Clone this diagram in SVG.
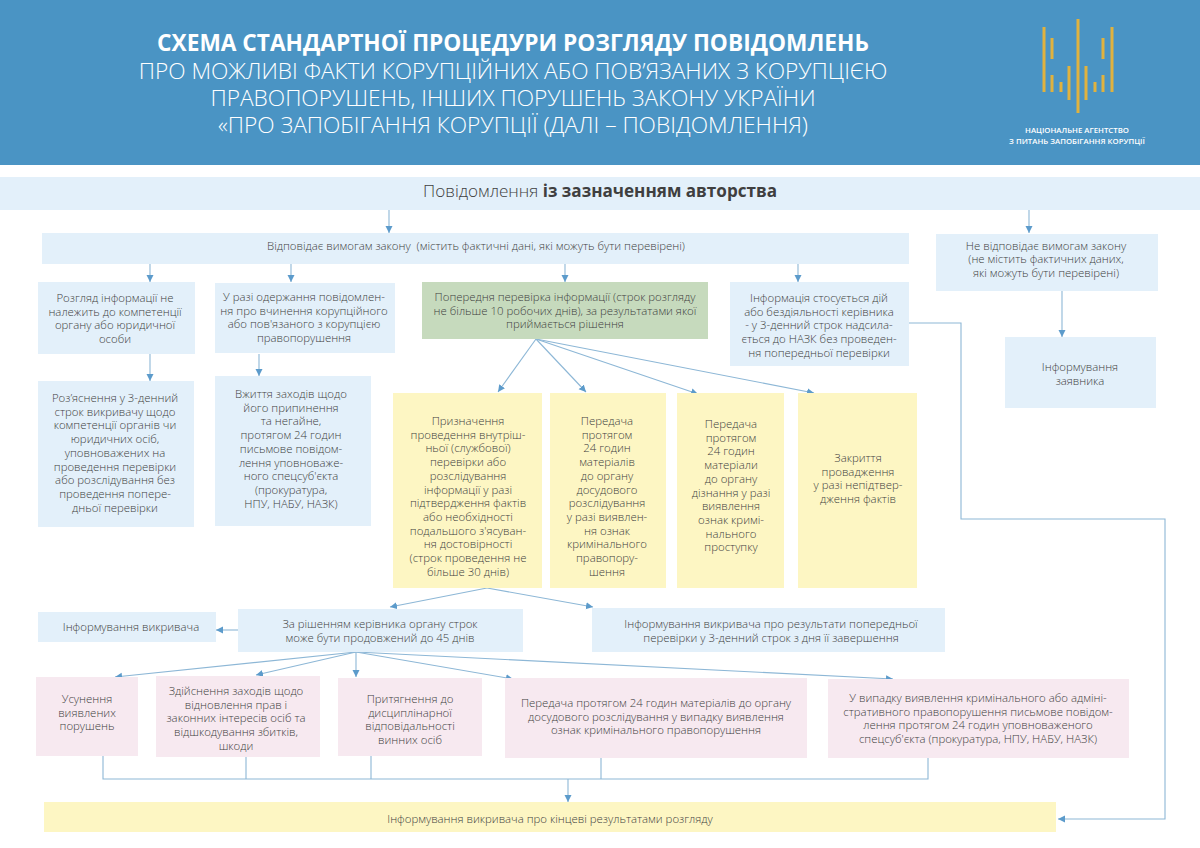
<svg xmlns="http://www.w3.org/2000/svg" width="1200" height="848" viewBox="0 0 1200 848">
<style>
text{font-family:"Open Sans","Noto Sans","DejaVu Sans",sans-serif}
.t{font-size:11.4px;fill:#3f3f3f;text-anchor:middle;font-weight:300}
.h{font-size:22.7px;fill:#fff;text-anchor:middle;font-weight:300}
.b{fill:#e3f0fa}.y{fill:#fdf6c3}.p{fill:#f7e9f0}.g{fill:#c6dabd}
.c path{fill:none;stroke:#8db7d6;stroke-width:1.1;marker-end:url(#a)}
.n path{fill:none;stroke:#8db7d6;stroke-width:1.1}
.l path{fill:none;stroke:#e0b23e;stroke-width:3}
</style>
<defs><marker id="a" markerUnits="userSpaceOnUse" markerWidth="9" markerHeight="9" refX="7" refY="3.5" orient="auto"><path d="M0 0L7 3.5L0 7Z" fill="#5c9bcb" stroke="none"/></marker></defs>
<rect width="1200" height="848" fill="#fff"/>
<g id="header">
<rect width="1200" height="165" fill="#4a94c4"/>
<text class="h" x="513" y="51" style="font-weight:700">СХЕМА СТАНДАРТНОЇ ПРОЦЕДУРИ РОЗГЛЯДУ ПОВІДОМЛЕНЬ</text>
<text class="h" x="513" y="78.5">ПРО МОЖЛИВІ ФАКТИ КОРУПЦІЙНИХ АБО ПОВ’ЯЗАНИХ З КОРУПЦІЄЮ</text>
<text class="h" x="513" y="106">ПРАВОПОРУШЕНЬ, ІНШИХ ПОРУШЕНЬ ЗАКОНУ УКРАЇНИ</text>
<text class="h" x="513" y="133">«ПРО ЗАПОБІГАННЯ КОРУПЦІЇ (ДАЛІ – ПОВІДОМЛЕННЯ)</text>
</g>
<g id="logo" class="l">
<path d="M1044 27V92M1052 38V59M1052 75V92M1061 82V92M1069 66V100M1078 19V113M1086 66V100M1095 82V92M1103 38V59M1103 75V92M1112 27V92"/>
<text x="1077" y="133" style="font-size:7.8px;fill:#fff;text-anchor:middle;font-weight:600">НАЦІОНАЛЬНЕ АГЕНТСТВО</text>
<text x="1077" y="144" style="font-size:7.8px;fill:#fff;text-anchor:middle;font-weight:600">З ПИТАНЬ ЗАПОБІГАННЯ КОРУПЦІЇ</text>
</g>
<g id="connectors">
<g class="c">
<path d="M389 210V233"/><path d="M1029 210V233"/>
<path d="M150 264V282"/><path d="M291 264V282"/><path d="M565 264V282"/><path d="M798 264V282"/>
<path d="M150 354V381"/><path d="M259 354V376"/><path d="M1062 291V337"/>
<path d="M536 339L498 392"/><path d="M536 339L586 392"/><path d="M536 339L698 394"/><path d="M536 339L814 393"/>
<path d="M487 588L390 607"/><path d="M487 588L593 607"/><path d="M238 630H216"/>
<path d="M356 652L115 677"/><path d="M356 652L256 675"/><path d="M356 652V677"/><path d="M356 652L513 679"/><path d="M356 652L893 679"/>
<path d="M568 779V802"/>
<path d="M909 323H961V519H1165V819H1058"/>
</g>
<g class="n"><path d="M103 756V779H928V758M246 757V779M371 756V779M601 758V779"/></g>
</g>
<g id="n-band"><rect y="177" width="1200" height="33" class="b"/>
<text x="600" y="197" style="font-size:17.1px;fill:#3f3f3f;text-anchor:middle;font-weight:300">Повідомлення <tspan font-weight="700">із зазначенням авторства</tspan></text></g>
<g id="n-main"><rect x="42" y="233" width="867" height="31" class="b"/><text class="t" x="476" y="250" xml:space="preserve">Відповідає вимогам закону  (містить фактичні дані, які можуть бути перевірені)</text></g>
<g id="n-right"><rect x="936" y="234" width="222" height="57" class="b"/><text class="t" x="1046" y="250">Не відповідає вимогам закону<tspan x="1046" dy="13.4">(не містить фактичних даних,</tspan><tspan x="1046" dy="13.4">які можуть бути перевірені)</tspan></text></g>
<g id="n-info"><rect x="1005" y="337" width="151" height="71" class="b"/><text class="t" x="1080" y="371">Інформування<tspan x="1080" dy="13.7">заявника</tspan></text></g>
<g id="n1"><rect x="38" y="282" width="157" height="72" class="b"/><text class="t" x="115" y="302">Розгляд інформації не<tspan x="115" dy="13.7">належить до компетенції</tspan><tspan x="115" dy="13.7">органу або юридичної</tspan><tspan x="115" dy="13.7">особи</tspan></text></g>
<g id="n2"><rect x="215" y="283" width="180" height="70" class="b"/><text class="t" x="304" y="301">У разі одержання повідомлен-<tspan x="304" dy="13.7">ня про вчинення корупційного</tspan><tspan x="304" dy="13.7">або пов'язаного з корупцією</tspan><tspan x="304" dy="13.7">правопорушення</tspan></text></g>
<g id="n1b"><rect x="38" y="381" width="156" height="146" class="b"/><text class="t" x="115" y="402">Роз’яснення у 3-денний<tspan x="115" dy="13.7">строк викривачу щодо</tspan><tspan x="115" dy="13.7">компетенції органів чи</tspan><tspan x="115" dy="13.7">юридичних осіб,</tspan><tspan x="115" dy="13.7">уповноважених на</tspan><tspan x="115" dy="13.7">проведення перевірки</tspan><tspan x="115" dy="13.7">або розслідування без</tspan><tspan x="115" dy="13.7">проведення попере-</tspan><tspan x="115" dy="13.7">дньої перевірки</tspan></text></g>
<g id="n2b"><rect x="215" y="376" width="156" height="150" class="b"/><text class="t" x="291" y="398">Вжиття заходів щодо<tspan x="291" dy="13.7">його припинення</tspan><tspan x="291" dy="13.7">та негайне,</tspan><tspan x="291" dy="13.7">протягом 24 годин</tspan><tspan x="291" dy="13.7">письмове повідом-</tspan><tspan x="291" dy="13.7">лення уповноваже-</tspan><tspan x="291" dy="13.7">ного спецсуб'єкта</tspan><tspan x="291" dy="13.7">(прокуратура,</tspan><tspan x="291" dy="13.7">НПУ, НАБУ, НАЗК)</tspan></text></g>
<g id="n3"><rect x="422" y="282" width="286" height="57" class="g"/><text class="t" x="565" y="301">Попередня перевірка інформації (строк розгляду<tspan x="565" dy="13.7">не більше 10 робочих днів), за результатами якої</tspan><tspan x="565" dy="13.7">приймається рішення</tspan></text></g>
<g id="n4"><rect x="730" y="282" width="179" height="84" class="b"/><text class="t" x="819" y="302">Інформація стосується дій<tspan x="819" dy="13.7">або бездіяльності керівника</tspan><tspan x="819" dy="13.7">- у 3-денний строк надсила-</tspan><tspan x="819" dy="13.7">ється до НАЗК без проведен-</tspan><tspan x="819" dy="13.7">ня попередньої перевірки</tspan></text></g>
<g id="y1"><rect x="393" y="393" width="149" height="195" class="y"/><text class="t" x="468" y="425">Призначення<tspan x="468" dy="13.7">проведення внутріш-</tspan><tspan x="468" dy="13.7">ньої (службової)</tspan><tspan x="468" dy="13.7">перевірки або</tspan><tspan x="468" dy="13.7">розслідування</tspan><tspan x="468" dy="13.7">інформації у разі</tspan><tspan x="468" dy="13.7">підтвердження фактів</tspan><tspan x="468" dy="13.7">або необхідності</tspan><tspan x="468" dy="13.7">подальшого з'ясуван-</tspan><tspan x="468" dy="13.7">ня достовірності</tspan><tspan x="468" dy="13.7">(строк проведення не</tspan><tspan x="468" dy="13.7">більше 30 днів)</tspan></text></g>
<g id="y2"><rect x="550" y="393" width="116" height="195" class="y"/><text class="t" x="607" y="425">Передача<tspan x="607" dy="13.7">протягом</tspan><tspan x="607" dy="13.7">24 годин</tspan><tspan x="607" dy="13.7">матеріалів</tspan><tspan x="607" dy="13.7">до органу</tspan><tspan x="607" dy="13.7">досудового</tspan><tspan x="607" dy="13.7">розслідування</tspan><tspan x="607" dy="13.7">у разі виявлен-</tspan><tspan x="607" dy="13.7">ня ознак</tspan><tspan x="607" dy="13.7">кримінального</tspan><tspan x="607" dy="13.7">правопору-</tspan><tspan x="607" dy="13.7">шення</tspan></text></g>
<g id="y3"><rect x="677" y="393" width="107" height="195" class="y"/><text class="t" x="731" y="428">Передача<tspan x="731" dy="13.7">протягом</tspan><tspan x="731" dy="13.7">24 годин</tspan><tspan x="731" dy="13.7">матеріали</tspan><tspan x="731" dy="13.7">до органу</tspan><tspan x="731" dy="13.7">дізнання у разі</tspan><tspan x="731" dy="13.7">виявлення</tspan><tspan x="731" dy="13.7">ознак кримі-</tspan><tspan x="731" dy="13.7">нального</tspan><tspan x="731" dy="13.7">проступку</tspan></text></g>
<g id="y4"><rect x="798" y="393" width="119" height="195" class="y"/><text class="t" x="858" y="462">Закриття<tspan x="858" dy="13.7">провадження</tspan><tspan x="858" dy="13.7">у разі непідтвер-</tspan><tspan x="858" dy="13.7">дження фактів</tspan></text></g>
<g id="r1"><rect x="38" y="612" width="178" height="30" class="b"/><text class="t" x="131" y="631">Інформування викривача</text></g>
<g id="r2"><rect x="238" y="609" width="285" height="43" class="b"/><text class="t" x="380" y="628">За рішенням керівника органу строк<tspan x="380" dy="13.7">може бути продовжений до 45 днів</tspan></text></g>
<g id="r3"><rect x="592" y="608" width="353" height="44" class="b"/><text class="t" x="771" y="628">Інформування викривача про результати попередньої<tspan x="771" dy="13.7">перевірки у 3-денний строк з дня її завершення</tspan></text></g>
<g id="p1"><rect x="36" y="677" width="102" height="79" class="p"/><text class="t" x="87" y="703">Усунення<tspan x="87" dy="13.7">виявлених</tspan><tspan x="87" dy="13.7">порушень</tspan></text></g>
<g id="p2"><rect x="156" y="676" width="164" height="81" class="p"/><text class="t" x="236" y="695">Здійснення заходів щодо<tspan x="236" dy="13.7">відновлення прав і</tspan><tspan x="236" dy="13.7">законних інтересів осіб та</tspan><tspan x="236" dy="13.7">відшкодування збитків,</tspan><tspan x="236" dy="13.7">шкоди</tspan></text></g>
<g id="p3"><rect x="338" y="678" width="144" height="78" class="p"/><text class="t" x="410" y="703">Притягнення до<tspan x="410" dy="13.7">дисциплінарної</tspan><tspan x="410" dy="13.7">відповідальності</tspan><tspan x="410" dy="13.7">винних осіб</tspan></text></g>
<g id="p4"><rect x="505" y="678" width="302" height="80" class="p"/><text class="t" x="656" y="707">Передача протягом 24 годин матеріалів до органу<tspan x="656" dy="13.7">досудового розслідування у випадку виявлення</tspan><tspan x="656" dy="13.7">ознак кримінального правопорушення</tspan></text></g>
<g id="p5"><rect x="828" y="679" width="301" height="79" class="p"/><text class="t" x="978" y="702">У випадку виявлення кримінального або адміні-<tspan x="978" dy="13.7">стративного правопорушення письмове повідом-</tspan><tspan x="978" dy="13.7">лення протягом 24 годин уповноваженого</tspan><tspan x="978" dy="13.7">спецсуб'єкта (прокуратура, НПУ, НАБУ, НАЗК)</tspan></text></g>
<g id="final"><rect x="44" y="802" width="1012" height="30" class="y"/><text class="t" x="550" y="823">Інформування викривача про кінцеві результатами розгляду</text></g>
</svg>
